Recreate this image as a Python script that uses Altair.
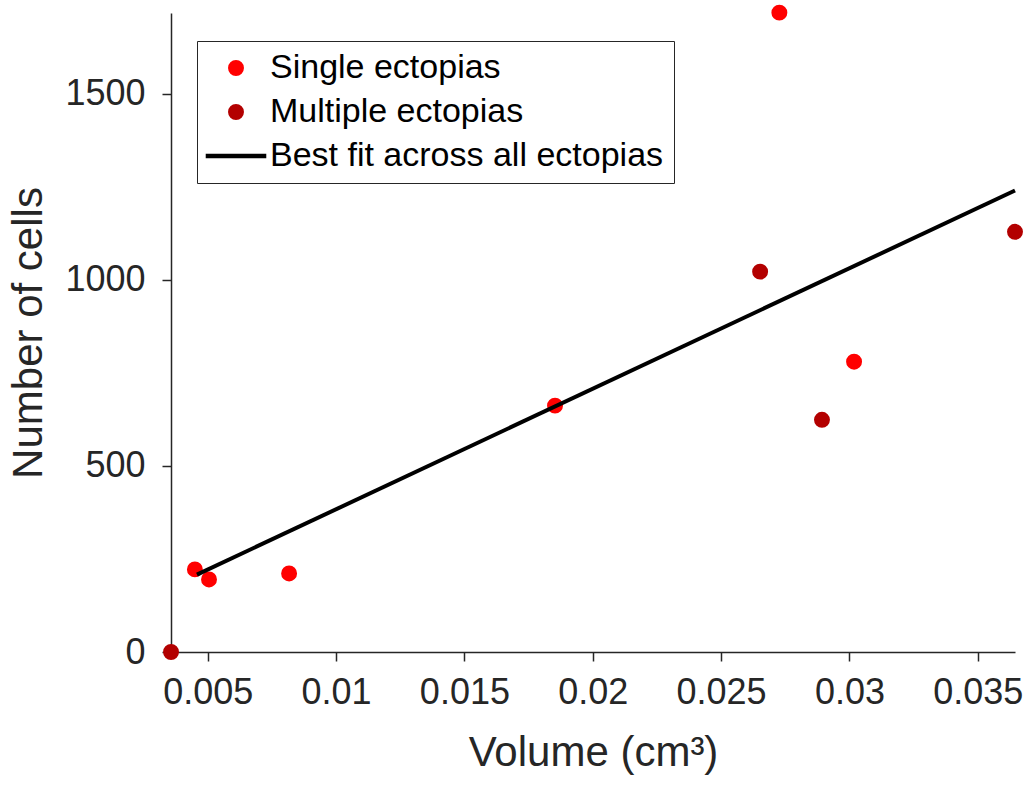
import altair as alt
import pandas as pd

# --- data ---
single_x = [0.00450, 0.00505, 0.00817, 0.01853, 0.02727, 0.03018]
single_y = [222, 195, 211, 662, 1718, 780]
multi_x = [0.00357, 0.02652, 0.02893, 0.03645]
multi_y = [0, 1022, 624, 1129]
fit_x = [0.00458, 0.03645]
fit_y = [208, 1240]

series_names = ["Single ectopias", "Multiple ectopias", "Best fit across all ectopias"]
series_colors = ["#FF0000", "#B30000", "#000000"]
x_ticks = [0.005, 0.01, 0.015, 0.02, 0.025, 0.03, 0.035]
y_ticks = [0, 500, 1000, 1500]
x_domain = [0.003569, 0.03645]
y_domain = [0, 1717]

pts = pd.DataFrame({
    "x": single_x + multi_x,
    "y": single_y + multi_y,
    "series": [series_names[0]] * len(single_x) + [series_names[1]] * len(multi_x),
})
fit = pd.DataFrame({"x": fit_x, "y": fit_y, "series": [series_names[2]] * len(fit_x)})

FONT = "Liberation Sans"
TXT = "#262626"
LINE_SYMBOL = "M-3.8,-0.27 L3.8,-0.27 L3.8,0.27 L-3.8,0.27 Z"

xenc = alt.X("x:Q", scale=alt.Scale(domain=x_domain, nice=False, zero=False),
             axis=alt.Axis(values=x_ticks, format="~g", title="Volume (cm³)"))
yenc = alt.Y("y:Q", scale=alt.Scale(domain=y_domain, nice=False, zero=False),
             axis=alt.Axis(values=y_ticks, format="d", title="Number of cells"))

color = alt.Color("series:N",
                  scale=alt.Scale(domain=series_names, range=series_colors),
                  title=None,
                  legend=alt.Legend(orient="none", legendX=26, legendY=28,
                                    strokeColor=TXT, fillColor="white", padding=10,
                                    labelFontSize=34, labelFont=FONT, labelColor="#000000",
                                    symbolSize=254, symbolOffset=12, labelOffset=17,
                                    rowPadding=10, labelLimit=600, symbolStrokeWidth=0))

points = alt.Chart(pts).mark_point(filled=True, size=254, opacity=1).encode(
    x=xenc, y=yenc, color=color,
    shape=alt.Shape("series:N",
                    scale=alt.Scale(domain=series_names,
                                    range=["circle", "circle", LINE_SYMBOL]),
                    title=None))

line = alt.Chart(fit).mark_line(strokeWidth=4).encode(x=xenc, y=yenc, color=color)

chart = alt.layer(points, line).properties(
    width=844, height=639,
    autosize=alt.AutoSizeParams(type="none"),
    padding={"left": 171, "top": 13, "right": 14, "bottom": 137},
).configure_view(stroke=None).configure_axis(
    grid=False, domainColor=TXT, tickColor=TXT, labelColor=TXT, titleColor=TXT,
    labelFont=FONT, titleFont=FONT, labelFontSize=36, titleFontSize=42,
    titleFontWeight="normal", tickSize=9, domainWidth=1.5, tickWidth=1.5,
).configure_axisX(labelPadding=14, titlePadding=22).configure_axisY(
    labelPadding=17, titlePadding=14)

chart.save("out.html", embed_options={"renderer": "svg", "actions": False})
